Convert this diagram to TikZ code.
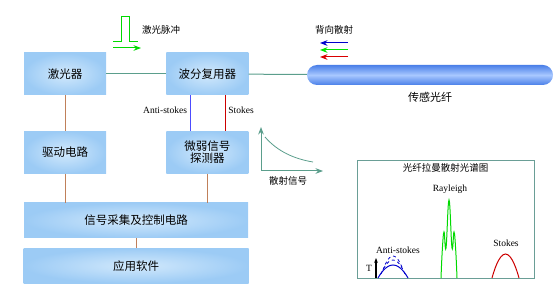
\documentclass[tikz,border=0pt]{standalone}
\usepackage{fontspec}
\setmainfont{Liberation Serif}
\newfontfamily\cjk{Noto Sans CJK SC}
\usetikzlibrary{arrows.meta,positioning}

\definecolor{boxout}{HTML}{9CCBF5}
\definecolor{boxin}{HTML}{D2E9FC}
\definecolor{teal}{HTML}{5B9E8C}
\definecolor{brownline}{HTML}{C0805A}
\definecolor{fiberblue}{HTML}{4A7FE8}
\definecolor{fiberlight}{HTML}{A8C8FF}
\definecolor{specframe}{HTML}{6A9E96}

\begin{document}
\begin{tikzpicture}[x=1pt,y=-1pt,>=Stealth,node distance=36pt and 60pt,
  block/.style={shade,inner color=boxin,outer color=boxout,minimum width=82pt,
    minimum height=42pt,inner sep=2pt,align=center,font=\cjk\fontsize{11.5}{14}\selectfont},
  wide/.style={block,minimum width=224pt,minimum height=35pt},
  link/.style={draw=teal,line width=1pt},
  wire/.style={draw=brownline,line width=1pt},
  small/.style={font=\cjk\fontsize{9.5}{11}\selectfont,inner sep=1pt},
  latin/.style={font=\fontsize{9.5}{11}\selectfont,inner sep=1pt}]
\useasboundingbox (0,0) rectangle (556,288);
% main blocks
\node[block] (laser) at (65,74) {激光器};
\node[block, right=of laser] (wdm) {波分复用器};
\node[block, below=of laser] (drive) {驱动电路};
\node[block, below=of wdm] (det) {微弱信号\\[-2pt]探测器};
\node[wide, below=29pt of drive.south west, anchor=north west] (acq) {信号采集及控制电路};
\node[wide, below=10pt of acq, minimum width=225pt] (soft) {应用软件};
% sensing fiber
\node[draw=none,top color=fiberblue,bottom color=fiberblue,middle color=fiberlight,
  rounded corners=10pt,minimum width=246pt,minimum height=20pt] (fiber) at (430,75) {};
\node[small, font=\cjk\fontsize{11}{13}\selectfont, below=6pt of fiber] (fiberlab) {传感光纤};
% connectors
\draw[link] (laser) -- (wdm);
\draw[link] (wdm) -- (fiber);
\draw[wire] (laser) -- (drive);
\draw[wire] (drive.south) -- (drive.south |- acq.north);
\draw[wire] (det.south) -- (det.south |- acq.north);
\draw[wire] (acq) -- (soft);
\draw[draw=blue!70!white,line width=1pt] ([xshift=24pt]wdm.south west) -- ([xshift=24pt]det.north west);
\draw[draw=red!80!black,line width=1pt] ([xshift=59pt]wdm.south west) -- ([xshift=59pt]det.north west);
\node[latin, left=2pt of {[xshift=24pt,yshift=-15pt]wdm.south west}] (antilab) {Anti-stokes};
\node[latin, right=2pt of {[xshift=59pt,yshift=-15pt]wdm.south west}] (stokeslab) {Stokes};
% laser pulse
\draw[green!85!black,line width=1pt] (113,42) -- (121,42) -- (121,17) -- (129,17) -- (129,42) -- (138,42);
\draw[->,green!85!black,line width=1pt] (113,48) -- (141,48);
\node[small] (pulselab) at (161,30) {激光脉冲};
% backscatter
\node[small] (backlab) at (334,30) {背向散射};
\draw[->,blue!80!black,line width=1pt] (348,43) -- (320,43);
\draw[->,green!90!black,line width=1pt] (348,50) -- (320,50);
\draw[->,red!85!black,line width=1pt] (348,57) -- (320,57);
% scattered signal curve
\coordinate (origin) at (261,171);
\draw[->,teal,line width=1pt] (origin) -- (261,127);
\draw[->,teal,line width=1pt] (origin) -- (323,171);
\draw[teal,line width=0.8pt] (265,137) .. controls (278,152) and (295,159) .. (313,162);
\node[small] (scatlab) at (288,181) {散射信号};
% spectrum
\node[draw=specframe,line width=0.8pt,minimum width=177pt,minimum height=118pt] (spec) at (445.5,219) {};
\node[small, below=3pt of spec.north] (spectitle) {光纤拉曼散射光谱图};
\node[latin] (raylab) at (450,189) {Rayleigh};
\node[latin] (stlab) at (506,243) {Stokes};
\node[latin] (aslab) at (398,250) {Anti-stokes};
\node[latin] (tlab) at (369,268) {T};
\draw[green!85!black,line width=1pt] plot[smooth,tension=0.7] coordinates
  {(441,278) (442.3,250) (444,232) (446,248) (449,200) (452,248) (454,232) (455.7,250) (457,278)};
\draw[red!80!black,line width=1pt] (492,278) parabola bend (505.5,254) (519,278);
\draw[blue!80!black,line width=1pt] (378,278) parabola bend (393,265) (408,278);
\draw[blue!80!black,line width=0.8pt,dashed] (381,274) parabola bend (393,260) (405,274);
\draw[blue!80!black,line width=0.8pt,dashed] (383,270) parabola bend (393,256) (403,270);
\draw[-{Stealth[length=5pt]},black,line width=1.2pt] (376,278) -- (376,258);
\end{tikzpicture}
\end{document}
